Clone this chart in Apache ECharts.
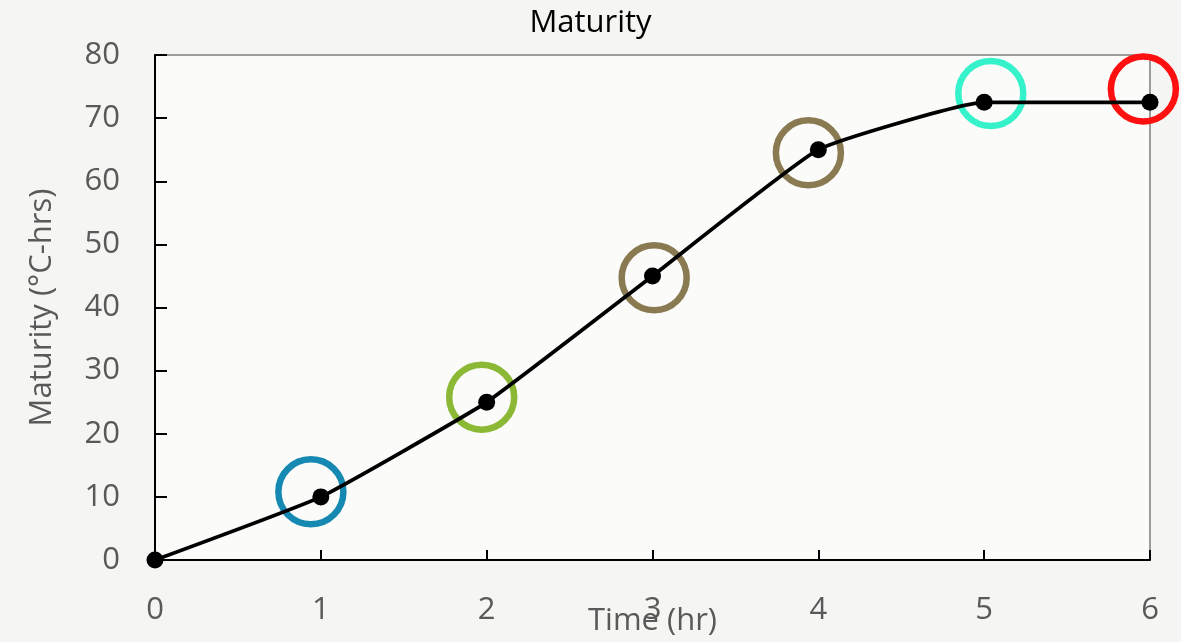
<!DOCTYPE html>
<html>
<head>
<meta charset="utf-8">
<script src="https://cdn.jsdelivr.net/npm/echarts@6/dist/echarts.min.js"></script>
<style>
html,body{margin:0;padding:0;background:#f5f5f3;}
#chart{width:1181px;height:642px;}
</style>
</head>
<body>
<div id="chart"></div>
<script>
// Data
const timeHr = [0, 1, 2, 3, 4, 5, 6];
const maturity = [0, 10, 25, 45, 65, 72.5, 72.5];
const xTicks = ['0', '1', '2', '3', '4', '5', '6'];
// Highlight rings (time, maturity, colour)
const ringTime = [0.94, 1.97, 3.01, 3.94, 5.04, 5.96];
const ringValue = [10.8, 25.8, 44.7, 64.5, 73.9, 74.6];
const ringColors = ['#1689b2', '#8bb835', '#8a7a52', '#8a7a52', '#36f2cb', '#ff1010'];

const chart = echarts.init(document.getElementById('chart'), null, {renderer: 'canvas'});
const font = '"Open Sans", "Noto Sans", sans-serif';

const lineData = timeHr.map((t, i) => [t, maturity[i]]);
const ringData = ringTime.map((t, i) => ({
  value: [t, ringValue[i]],
  itemStyle: {color: 'rgba(0,0,0,0)', borderColor: ringColors[i], borderWidth: 6.5, opacity: 1}
}));

chart.setOption({
  backgroundColor: '#f5f5f3',
  animation: false,
  title: {
    text: 'Maturity',
    left: 'center',
    top: 8,
    padding: 0,
    textStyle: {fontFamily: font, fontSize: 31, fontWeight: 'normal', color: '#000'}
  },
  grid: {
    left: 155, right: 31, top: 55, bottom: 82,
    outerBoundsMode: 'none',
    containLabel: false,
    show: true,
    backgroundColor: '#fbfbfa',
    borderColor: '#7f7f7f',
    borderWidth: 1.5
  },
  xAxis: {
    type: 'value',
    min: 0, max: 6, interval: 1,
    name: 'Time (hr)',
    nameLocation: 'middle',
    nameGap: 46,
    nameMoveOverlap: false,
    nameTextStyle: {fontFamily: font, fontSize: 31, color: '#595959'},
    axisLine: {show: true, onZero: false, lineStyle: {color: '#000', width: 2}},
    axisTick: {show: true, inside: true, length: 10, lineStyle: {color: '#000', width: 2}},
    axisLabel: {
      margin: 35,
      fontFamily: font, fontSize: 31, color: '#595959',
      formatter: v => xTicks[Math.round(v)]
    },
    splitLine: {show: false}
  },
  yAxis: {
    type: 'value',
    min: 0, max: 80, interval: 10,
    name: 'Maturity (°C-hrs)',
    nameLocation: 'middle',
    nameGap: 97,
    nameMoveOverlap: false,
    nameTextStyle: {fontFamily: font, fontSize: 31, color: '#595959'},
    axisLine: {show: true, lineStyle: {color: '#000', width: 2}},
    axisTick: {show: true, inside: true, length: 12, lineStyle: {color: '#000', width: 2}},
    axisLabel: {margin: 35, fontFamily: font, fontSize: 31, color: '#595959'},
    splitLine: {show: false}
  },
  series: [
    {
      type: 'line',
      data: lineData,
      smooth: 0.12,
      symbol: 'circle',
      symbolSize: 17,
      lineStyle: {color: '#000', width: 3.8},
      itemStyle: {color: '#000', opacity: 1},
      z: 3
    },
    {
      type: 'scatter',
      data: ringData,
      symbol: 'circle',
      symbolSize: 65,
      z: 2
    }
  ]
});
</script>
</body>
</html>
